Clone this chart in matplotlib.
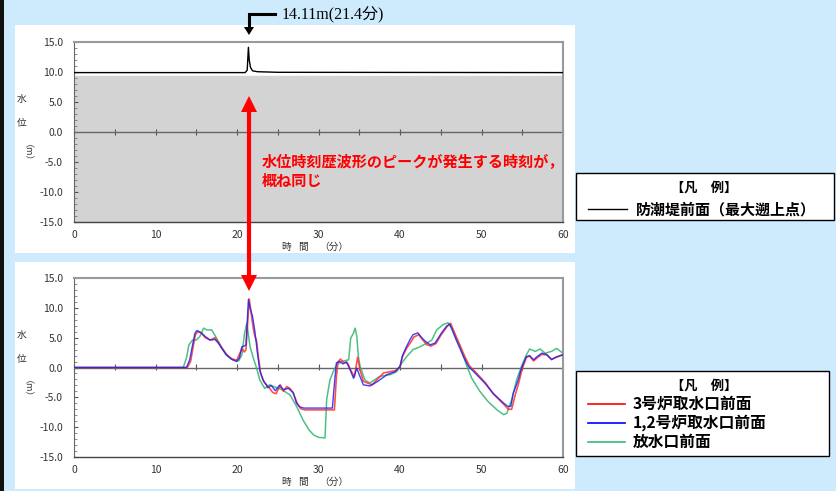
import matplotlib
matplotlib.use("Agg")
import matplotlib.pyplot as plt
from matplotlib.patches import Rectangle, Polygon
from matplotlib.lines import Line2D
from matplotlib.ticker import MultipleLocator, FormatStrFormatter

plt.rcParams['font.family'] = ['Noto Sans CJK JP', 'DejaVu Sans']
plt.rcParams['axes.unicode_minus'] = False

# ---------------- data ----------------
T_TOP = [0.0, 21.0, 21.25, 21.4, 21.5, 21.65, 21.9, 22.5, 25.0, 60.0]
V_TOP = [9.9, 9.9, 10.3, 14.11, 12.0, 10.8, 10.2, 10.05, 9.95, 9.9]
SEAWALL_LEVEL = 9.3

T_B = [0.0, 13.0, 13.8, 14.2, 14.55, 14.85, 15.1, 15.65, 16.1, 16.7,
       17.3, 17.7, 18.1, 18.7, 19.3, 19.95, 20.3, 20.6, 20.9, 21.1,
       21.4, 21.6, 21.9, 22.2, 22.5, 22.8, 23.2, 23.8, 24.2, 24.7,
       25.2, 25.7, 26.3, 26.9, 27.3, 27.7, 28.2, 31.7, 32.0, 32.2,
       32.6, 33.0, 33.4, 33.7, 34.3, 34.7, 35.0, 35.5, 36.3, 37.3,
       38.4, 39.4, 40.0, 40.3, 40.8, 41.2, 41.6, 42.2, 42.6, 43.1,
       43.7, 44.3, 45.1, 45.7, 46.1, 46.9, 47.8, 48.4, 49.4, 50.4,
       51.4, 52.5, 53.2, 53.6, 53.9, 54.5, 54.9, 55.5, 55.9, 56.4,
       56.8, 57.4, 58.0, 58.6, 59.2, 60.0]
V_B = [0.0, 0.0, 0.0, 1.3, 3.8, 5.8, 6.2, 5.8, 5.2, 4.6,
       4.7, 4.1, 3.3, 2.1, 1.4, 1.0, 1.6, 3.5, 3.6, 3.8,
       11.4, 10.0, 8.6, 6.0, 2.5, -0.5, -2.1, -3.4, -3.0, -3.9,
       -3.0, -3.7, -3.5, -4.2, -6.0, -6.6, -6.8, -6.8, -2.0, 0.8,
       1.0, 0.6, 0.9, 0.2, -1.8, -0.1, -1.2, -2.9, -3.1, -2.3,
       -1.2, -0.7, 0.2, 2.0, 3.5, 4.6, 5.5, 5.8, 5.1, 4.4,
       3.8, 4.1, 5.8, 6.9, 7.3, 4.6, 1.8, 0.2, -1.2, -2.6,
       -4.3, -5.7, -6.5, -6.5, -4.3, -2.1, -0.1, 1.8, 2.0, 1.3,
       1.8, 2.4, 2.2, 1.3, 1.8, 2.1]

T_R = [0.0, 13.0, 13.9, 14.3, 14.6, 14.9, 15.2, 15.6, 16.1, 16.7,
       17.3, 17.7, 18.1, 18.7, 19.3, 19.95, 20.3, 20.6, 20.9, 21.1,
       21.5, 21.7, 22.0, 22.2, 22.4, 22.6, 22.9, 23.3, 23.9, 24.4,
       24.8, 25.3, 25.7, 26.1, 26.5, 26.9, 27.4, 27.8, 28.3, 31.95,
       32.2, 32.4, 32.7, 33.1, 33.5, 33.9, 34.4, 34.8, 35.1, 35.5,
       36.0, 36.6, 37.2, 38.0, 38.8, 39.5, 40.0, 40.3, 40.8, 41.3,
       41.7, 42.3, 42.8, 43.3, 43.8, 44.4, 45.1, 45.8, 46.2, 47.0,
       47.9, 48.5, 49.5, 50.5, 51.5, 52.6, 53.3, 53.7, 54.1, 54.6,
       55.0, 55.5, 55.9, 56.4, 56.8, 57.4, 58.0, 58.6, 59.2, 60.0]
V_R = [0.0, 0.0, 0.0, 1.0, 3.3, 5.5, 6.0, 5.8, 5.0, 4.6,
       5.0, 4.3, 3.4, 2.2, 1.5, 1.2, 2.2, 3.2, 2.6, 3.0,
       11.5, 9.5, 6.5, 5.2, 4.5, 2.0, -1.0, -2.4, -3.3, -4.2,
       -4.4, -2.9, -4.0, -3.2, -3.5, -4.3, -6.0, -6.9, -7.1, -7.1,
       -1.5, 1.0, 1.4, 0.8, 0.9, -0.3, -1.6, 1.7, -0.4, -2.3,
       -2.6, -2.9, -2.0, -0.9, -0.7, -0.5, 0.1, 1.8, 3.2, 4.2,
       5.1, 5.5, 4.6, 3.8, 3.6, 4.0, 5.6, 6.9, 7.4, 4.8,
       2.0, 0.3, -1.1, -2.6, -4.5, -6.0, -7.0, -7.0, -4.8, -2.4,
       -0.2, 1.7, 1.9, 1.1, 1.6, 2.2, 2.1, 1.4, 1.7, 2.2]

T_G = [0.0, 13.0, 13.4, 13.8, 14.1, 14.55, 15.0, 15.45, 15.9, 16.3,
       16.9, 17.5, 18.1, 18.7, 19.5, 20.2, 20.6, 20.9, 21.2, 21.6,
       22.0, 22.4, 22.8, 23.4, 24.0, 24.5, 25.5, 26.5, 27.3, 28.1,
       28.8, 29.4, 30.0, 30.8, 31.0, 31.4, 31.8, 32.2, 32.8, 33.7,
       33.95, 34.3, 34.5, 34.7, 34.9, 35.1, 35.7, 36.3, 37.5, 38.8,
       39.6, 40.2, 40.8, 41.6, 42.5, 43.3, 43.9, 44.5, 45.3, 45.9,
       46.5, 47.4, 48.1, 48.8, 49.8, 50.8, 51.9, 52.7, 53.1, 53.7,
       54.3, 54.9, 55.5, 55.9, 56.6, 57.2, 57.8, 58.6, 59.2, 60.0]
V_G = [0.0, 0.0, 0.0, 1.6, 3.8, 4.6, 4.6, 5.2, 6.6, 6.3,
       6.3, 4.9, 3.3, 2.1, 1.3, 1.1, 2.1, 5.5, 7.4, 3.5,
       1.6, -0.1, -2.1, -3.5, -2.9, -3.2, -3.7, -4.6, -6.5, -8.8,
       -10.4, -11.3, -11.7, -11.8, -5.4, -2.1, -0.7, 0.4, 1.0, 1.3,
       4.9, 5.8, 6.6, 5.2, 1.8, 0.2, -2.1, -2.6, -1.5, -1.2,
       -0.7, 0.7, 1.8, 3.0, 3.5, 4.1, 4.6, 6.3, 7.2, 7.5,
       6.3, 3.5, 0.6, -1.8, -4.0, -5.7, -7.1, -7.9, -7.7, -5.4,
       -2.1, 0.2, 2.1, 3.1, 2.7, 3.1, 2.4, 2.7, 3.2, 2.4]

LEG_TITLE = '【凡　例】'
LEG_TOP = ['防潮堤前面（最大遡上点）']
LEG_BOTTOM = ['3号炉取水口前面', '1,2号炉取水口前面', '放水口前面']
PEAK_LABEL = '14.11m(21.4分)'
NOTE_LINES = ['水位時刻歴波形のピークが発生する時刻が，', '概ね同じ']

# ---------------- layout ----------------
W, H = 836, 491
fig = plt.figure(figsize=(W / 100, H / 100), dpi=100)
fig.patch.set_facecolor('#cdebfc')


def fx(px):
    return px / W


def fy(py):
    return 1 - py / H


def frect(x0, y0, x1, y1, **kw):
    return Rectangle((fx(x0), fy(y1)), fx(x1) - fx(x0), (y1 - y0) / H,
                     transform=fig.transFigure, **kw)


fig.patches.append(frect(0, 0, 4, H, facecolor='#111111', edgecolor='none', zorder=-10))
fig.patches.append(frect(15, 25, 575, 253, facecolor='white', edgecolor='none', zorder=-10))
fig.patches.append(frect(15, 262, 575, 489, facecolor='white', edgecolor='none', zorder=-10))

AX_L, AX_R = 74, 563
ax1 = fig.add_axes([fx(AX_L), fy(222), fx(AX_R) - fx(AX_L), (222 - 42) / H])
ax2 = fig.add_axes([fx(AX_L), fy(457), fx(AX_R) - fx(AX_L), (457 - 278) / H])


def style(ax):
    ax.set_xlim(0, 60)
    ax.set_ylim(-15, 15)
    ax.set_facecolor('white')
    ax.xaxis.set_major_locator(MultipleLocator(10))
    ax.yaxis.set_major_locator(MultipleLocator(5))
    ax.yaxis.set_minor_locator(MultipleLocator(1))
    ax.yaxis.set_major_formatter(FormatStrFormatter('%.1f'))
    ax.tick_params(axis='x', length=0, labelsize=7.5, labelcolor='#333333', pad=6)
    ax.tick_params(axis='y', which='major', direction='in', length=3,
                   labelsize=7.5, labelcolor='#333333', color='#555555', pad=8)
    ax.tick_params(axis='y', which='minor', direction='in', length=2, color='#777777')
    for s in ['top', 'right']:
        ax.spines[s].set_color('#9a9a9a')
        ax.spines[s].set_linewidth(1.5)
    ax.spines['left'].set_color('#666666')
    ax.spines['left'].set_linewidth(0.8)
    ax.spines['bottom'].set_color('#444444')
    ax.spines['bottom'].set_linewidth(1.0)
    ax.axhline(0, color='#666666', lw=1.0, zorder=2)
    sec = ax.secondary_xaxis(0.5)
    sec.xaxis.set_major_locator(MultipleLocator(5))
    sec.tick_params(axis='x', direction='inout', length=5, color='#555555',
                    labelbottom=False, labeltop=False, width=0.8)
    for s in ['top', 'left', 'right', 'bottom']:
        sec.spines[s].set_visible(False)


style(ax1)
style(ax2)

ax1.axhspan(-15, SEAWALL_LEVEL, color='#d3d3d3', zorder=0)
ax1.plot(T_TOP, V_TOP, color='black', lw=1.0, zorder=3)

ax2.plot(T_G, V_G, color='#3cb878', lw=1.1, alpha=0.9, zorder=3)
ax2.plot(T_R, V_R, color='#ff3030', lw=1.2, alpha=0.85, zorder=4)
ax2.plot(T_B, V_B, color='#2020f0', lw=1.0, alpha=0.85, zorder=5)

# axis labels
for ycen in (132, 368):
    fig.text(fx(22), fy(ycen - 33), '水', fontsize=7, ha='center', va='center', color='#333333')
    fig.text(fx(22), fy(ycen - 9), '位', fontsize=7, ha='center', va='center', color='#333333')
    fig.text(fx(22), fy(ycen + 25), '（m）', fontsize=6.5, ha='center', va='center',
             rotation=270, color='#333333')
for ycen in (247, 482):
    fig.text(fx(286), fy(ycen), '時', fontsize=7, ha='center', va='center', color='#333333')
    fig.text(fx(303), fy(ycen), '間', fontsize=7, ha='center', va='center', color='#333333')
    fig.text(fx(334), fy(ycen), '（分）', fontsize=7, ha='center', va='center', color='#333333')

# legends
fig.patches.append(frect(576, 173, 834, 220, facecolor='white', edgecolor='black', lw=1.0))
fig.text(fx(704), fy(188), LEG_TITLE, fontsize=9.5, fontweight='bold', ha='center', va='center')
fig.lines.append(Line2D([fx(588), fx(627)], [fy(209), fy(209)], color='black', lw=1.0,
                        transform=fig.transFigure))
fig.text(fx(636), fy(209), LEG_TOP[0], fontsize=10.8, fontweight='bold', ha='left', va='center')

fig.patches.append(frect(576, 371, 829, 456, facecolor='white', edgecolor='black', lw=1.0))
fig.text(fx(704), fy(386), LEG_TITLE, fontsize=9.5, fontweight='bold', ha='center', va='center')
for label, col, yy in zip(LEG_BOTTOM, ['#ff0000', '#0000ff', '#3cb878'], [404, 423, 442]):
    fig.lines.append(Line2D([fx(588), fx(625)], [fy(yy), fy(yy)], color=col, lw=1.2,
                            transform=fig.transFigure))
    fig.text(fx(633), fy(yy), label, fontsize=11.3, fontweight='bold', ha='left', va='center')

# peak annotation (black elbow arrow)
fig.lines.append(Line2D([fx(275), fx(249), fx(249)], [fy(14), fy(14), fy(28)],
                        color='black', lw=2.2, transform=fig.transFigure,
                        solid_joinstyle='miter'))
fig.patches.append(Polygon([[fx(244), fy(27)], [fx(254), fy(27)], [fx(249), fy(35)]],
                           closed=True, facecolor='black', edgecolor='none',
                           transform=fig.transFigure))
fig.text(fx(282), fy(15), PEAK_LABEL, fontsize=11.5, ha='left', va='center',
         family=['Liberation Serif', 'Noto Sans CJK JP'])

# red double arrow
fig.lines.append(Line2D([fx(249), fx(249)], [fy(108), fy(279)], color='#ff0000', lw=3.0,
                        transform=fig.transFigure))
fig.patches.append(Polygon([[fx(241), fy(112)], [fx(257), fy(112)], [fx(249), fy(96)]],
                           closed=True, facecolor='#ff0000', edgecolor='none',
                           transform=fig.transFigure))
fig.patches.append(Polygon([[fx(241), fy(275)], [fx(257), fy(275)], [fx(249), fy(291)]],
                           closed=True, facecolor='#ff0000', edgecolor='none',
                           transform=fig.transFigure))
fig.text(fx(262), fy(162), NOTE_LINES[0], fontsize=10.9, fontweight='bold', color='#ff0000',
         ha='left', va='center')
fig.text(fx(262), fy(181), NOTE_LINES[1], fontsize=10.9, fontweight='bold', color='#ff0000',
         ha='left', va='center')

fig.savefig('out.png', dpi=100, facecolor=fig.get_facecolor())
